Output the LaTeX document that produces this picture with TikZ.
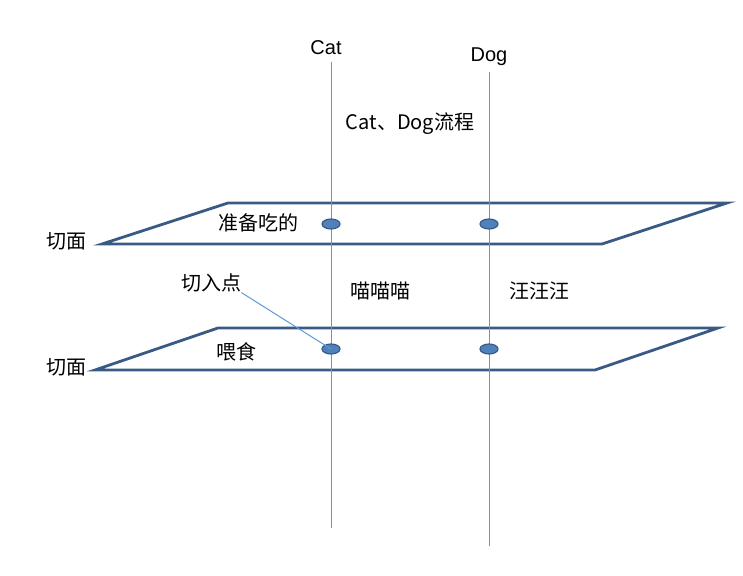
\documentclass[tikz,border=0pt]{standalone}
\usepackage{fontspec}
\setmainfont{Liberation Sans}
\newfontfamily\cjk{Noto Sans CJK SC}
\usetikzlibrary{positioning,shapes.geometric}
\definecolor{planeblue}{HTML}{3A5A86}
\definecolor{lineblue}{HTML}{5B9BD5}
\definecolor{dotblue}{HTML}{4F81BD}
\begin{document}
\begin{tikzpicture}[x=0.5pt,y=-0.5pt,
  plane/.style={draw=planeblue,line width=1.4pt},
  flow/.style={draw=lineblue,line width=0.5pt},
  point/.style={ellipse,draw=planeblue,fill=dotblue,line width=0.6pt,minimum width=9pt,minimum height=5pt,inner sep=0pt},
  lbl/.style={font=\cjk\fontsize{10}{12}\selectfont,inner sep=0pt}]
  \useasboundingbox (0,0) rectangle (743,576);
  % planes
  \draw[plane] (102,244) -- (228,203) -- (727,203) -- (602,244) -- cycle;
  \draw[plane] (95,370) -- (218,328) -- (718,328) -- (595,370) -- cycle;
  % flows
  \coordinate (cattop) at (331,62);
  \coordinate (catbot) at (331,528);
  \coordinate (dogtop) at (489,72);
  \coordinate (dogbot) at (489,546);
  \draw[flow] (cattop) -- (catbot);
  \draw[flow] (dogtop) -- (dogbot);
  \node[point] (c1) at (331,224) {};
  \node[point] (d1) at (489,224) {};
  \node[point] (c2) at (331,349) {};
  \node[point] (d2) at (489,349) {};
  % labels
  \node[lbl,font=\fontsize{10}{12}\selectfont] (cat) at (326,48) {Cat};
  \node[lbl,font=\fontsize{10}{12}\selectfont] (dog) at (489,57) {Dog};
  \node[lbl] (flowname) at (410,124) {Cat、Dog流程};
  \node[lbl] (prep) at (258,223) {准备吃的};
  \node[lbl] (miao) at (380,291) {喵喵喵};
  \node[lbl] (wang) at (539,291) {汪汪汪};
  \node[lbl] (feed) at (236,352) {喂食};
  \node[lbl] (entry) at (211,283) {切入点};
  \node[lbl] (face1) at (66,241) {切面};
  \node[lbl] (face2) at (66,367) {切面};
  \draw[flow] (entry.south east) -- (c2.center);
\end{tikzpicture}
\end{document}
